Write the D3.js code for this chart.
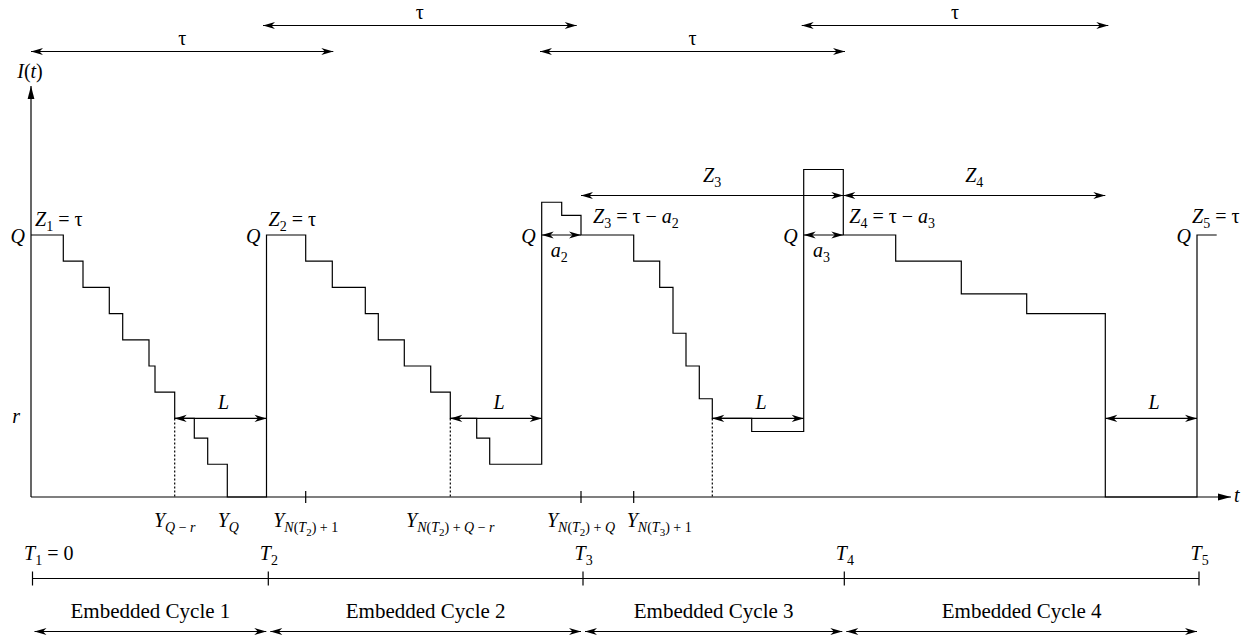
<!DOCTYPE html>
<meta charset="utf-8">
<script src="https://d3js.org/d3.v7.min.js"></script>
<style>
  body { margin: 0; background: #fff; }
  text { font-family: "Liberation Serif", "Times New Roman", serif; fill: #000; white-space: pre; }
</style>
<div id="my_dataviz"></div>
<script>

// inventory path: breakpoints (time, level) with Q = 10, r = 3
var invT     = [0, 3.23, 5.2, 7.83, 9.17, 11.8, 12.4, 14.37, 16.33, 17.67, 19.63,
                23.55, 27.47, 30.13, 33.43, 34.73, 37.33, 39.97, 41.93, 44.57, 45.87,
                51.07, 53.07, 55.0, 60.27, 62.87, 64.2, 65.5, 66.83, 68.13, 72.07,
                77.27, 81.23, 86.47, 93.03, 99.57, 107.43, 116.6, 118.57];
var invLevel = [10, 9, 8, 7, 6, 5, 4, 3, 2.25, 1.25, 0,
                10, 9, 8, 7, 6, 5, 4, 3, 2.25, 1.25,
                11.25, 10.75, 10, 9, 8, 6.25, 5, 3.75, 3, 2.5,
                12.5, 10, 9, 7.75, 7, 0, 10, 10];

var Q = 10, r = 3;
var reorderT = [14.37, 41.93, 68.13, 107.43];   // level reaches r
var arrivalT = [23.55, 51.07, 77.27, 116.6];    // order arrives
var tauStart = [0, 23.2, 50.9, 77.07];
var tauEnd   = [30.23, 54.57, 81.4, 107.73];
var zArrows  = [[55.0, 81.23, "3"], [81.23, 107.43, "4"]];
var aArrows  = [[51.07, 55.0, "2"], [77.27, 81.23, "3"]];
var axisTicks = [27.47, 55.0, 60.27];
var cycleT   = [0.15, 23.73, 55.2, 81.33, 116.8];
var cycleNames = ["Embedded Cycle 1", "Embedded Cycle 2", "Embedded Cycle 3", "Embedded Cycle 4"];

var width = 1250, height = 636;

var svg = d3.select("#my_dataviz")
  .append("svg")
    .attr("width", width)
    .attr("height", height);

var x = d3.scaleLinear().domain([0, 120]).range([31, 1231]);
var y = d3.scaleLinear().domain([0, 10]).range([497, 235]);

// arrow heads
var defs = svg.append("defs");
defs.append("marker")
    .attr("id", "barb")
    .attr("viewBox", "-13 -5 14 10")
    .attr("markerWidth", 14).attr("markerHeight", 10)
    .attr("markerUnits", "userSpaceOnUse")
    .attr("refX", 0).attr("refY", 0)
    .attr("orient", "auto-start-reverse")
  .append("path")
    .attr("d", "M0,0 L-12,-3.6 L-8.5,0 L-12,3.6 Z")
    .attr("fill", "#000");
defs.append("marker")
    .attr("id", "solid")
    .attr("viewBox", "-14 -5 15 10")
    .attr("markerWidth", 15).attr("markerHeight", 10)
    .attr("markerUnits", "userSpaceOnUse")
    .attr("refX", 0).attr("refY", 0)
    .attr("orient", "auto")
  .append("path")
    .attr("d", "M0,0 L-13,-3.4 L-13,3.4 Z")
    .attr("fill", "#000");

function line(x1, y1, x2, y2, both) {
  var l = svg.append("line")
    .attr("x1", x1).attr("y1", y1).attr("x2", x2).attr("y2", y2)
    .attr("stroke", "#000").attr("stroke-width", 1.2);
  if (both) l.attr("marker-start", "url(#barb)").attr("marker-end", "url(#barb)");
  return l;
}

// text with subscripts: segs = [text, "i"/"r", level]
function rich(px, py, segs, anchor, base) {
  base = base || 20;
  var shift = [0, 5, 9], size = [base, 14, 11];
  var t = svg.append("text")
    .attr("x", px).attr("y", py)
    .attr("text-anchor", anchor || "start")
    .attr("xml:space", "preserve");
  var cur = 0;
  segs.forEach(function(s) {
    var lvl = s[2] || 0;
    t.append("tspan")
      .attr("dy", shift[lvl] - cur)
      .attr("font-size", size[lvl])
      .attr("font-style", s[1] === "i" ? "italic" : "normal")
      .text(s[0]);
    cur = shift[lvl];
  });
  return t;
}

// axes
line(x(0), y(0), x(0), 86).attr("marker-end", "url(#solid)");
line(x(0), y(0), x(120), y(0)).attr("marker-end", "url(#solid)");
rich(x(0) - 1, 78, [["I", "i"], ["(", "r"], ["t", "i"], [")", "r"]], "middle");
rich(x(120) + 3, 502, [["t", "i"]]);

// inventory
var pts = invT.map(function(t, i) { return [t, invLevel[i]]; });
svg.append("path")
  .datum(pts)
  .attr("fill", "none")
  .attr("stroke", "#000")
  .attr("stroke-width", 1.2)
  .attr("d", d3.line()
    .x(function(d) { return x(d[0]); })
    .y(function(d) { return y(d[1]); })
    .curve(d3.curveStepAfter));

// ticks on the time axis
axisTicks.forEach(function(t) { line(x(t), y(0) - 6, x(t), y(0) + 6); });

// dotted reorder lines and lead time arrows
reorderT.forEach(function(t, i) {
  if (i < 3) line(x(t), y(r), x(t), y(0)).attr("stroke-dasharray", "2,2");
  line(x(t), y(r), x(arrivalT[i]), y(r), true);
  rich((x(t) + x(arrivalT[i])) / 2 + 3, y(r) - 9, [["L", "i"]], "middle");
});

// Q and r labels
[0].concat(arrivalT).forEach(function(t) {
  rich(x(t) - 6, y(Q) + 8, [["Q", "i"]], "end");
});
rich(x(0) - 11, y(r) + 5, [["r", "i"]], "end");

// Z labels
rich(x(0) + 4, y(Q) - 9, [["Z", "i"], ["1", "r", 1], [" = τ", "r"]]);
rich(x(arrivalT[0]) + 2, y(Q) - 9, [["Z", "i"], ["2", "r", 1], [" = τ", "r"]]);
rich(x(55.0) + 12, y(Q) - 12, [["Z", "i"], ["3", "r", 1], [" = τ − ", "r"], ["a", "i"], ["2", "r", 1]]);
rich(x(81.23) + 6, y(Q) - 12, [["Z", "i"], ["4", "r", 1], [" = τ − ", "r"], ["a", "i"], ["3", "r", 1]]);
rich(x(arrivalT[3]) - 5, y(Q) - 12, [["Z", "i"], ["5", "r", 1], [" = τ", "r"]]);

// a arrows (at Q) and Z arrows
aArrows.forEach(function(a) {
  line(x(a[0]), y(Q), x(a[1]), y(Q), true);
  rich((x(a[0]) + x(a[1])) / 2 - 2, y(Q) + 22, [["a", "i"], [a[2], "r", 1]], "middle");
});
zArrows.forEach(function(z) {
  line(x(z[0]), 195.5, x(z[1]), 195.5, true);
  rich((x(z[0]) + x(z[1])) / 2, 182, [["Z", "i"], [z[2], "r", 1]], "middle");
});

// tau arrows at the top
tauStart.forEach(function(t, i) {
  var yy = i % 2 === 0 ? 51.5 : 25.5;
  line(x(t), yy, x(tauEnd[i]), yy, true);
  rich((x(t) + x(tauEnd[i])) / 2, yy - 7, [["τ", "r"]], "middle");
});

// labels under the time axis
var ly = 527;
rich(x(reorderT[0]), ly, [["Y", "i"], ["Q", "i", 1], [" − ", "r", 1], ["r", "i", 1]], "middle");
rich(x(19.63) + 1, ly, [["Y", "i"], ["Q", "i", 1]], "middle");
rich(x(axisTicks[0]), ly, [["Y", "i"], ["N", "i", 1], ["(", "r", 1], ["T", "i", 1], ["2", "r", 2], [")", "r", 1], [" + 1", "r", 1]], "middle");
rich(x(reorderT[1]), ly, [["Y", "i"], ["N", "i", 1], ["(", "r", 1], ["T", "i", 1], ["2", "r", 2], [")", "r", 1], [" + ", "r", 1], ["Q", "i", 1], [" − ", "r", 1], ["r", "i", 1]], "middle");
rich(x(axisTicks[1]), ly, [["Y", "i"], ["N", "i", 1], ["(", "r", 1], ["T", "i", 1], ["2", "r", 2], [")", "r", 1], [" + ", "r", 1], ["Q", "i", 1]], "middle");
rich(x(axisTicks[2]) - 7, ly, [["Y", "i"], ["N", "i", 1], ["(", "r", 1], ["T", "i", 1], ["3", "r", 2], [")", "r", 1], [" + 1", "r", 1]]);

// embedded cycle timeline
var ty = 578.5;
line(x(cycleT[0]), ty, x(cycleT[4]), ty);
cycleT.forEach(function(t, i) {
  line(x(t), ty - 7, x(t), ty + 7);
  var segs = [["T", "i"], [String(i + 1), "r", 1]];
  if (i === 0) segs.push([" = 0", "r"]);
  rich(x(t) - 8.5, 560, segs);
});
cycleNames.forEach(function(name, i) {
  var x1 = x(cycleT[i]) + 2, x2 = x(cycleT[i + 1]) - 2;
  line(x1, 631.5, x2, 631.5, true);
  svg.append("text")
    .attr("x", (x1 + x2) / 2).attr("y", 618)
    .attr("text-anchor", "middle")
    .attr("font-size", 21)
    .text(name);
});
</script>
